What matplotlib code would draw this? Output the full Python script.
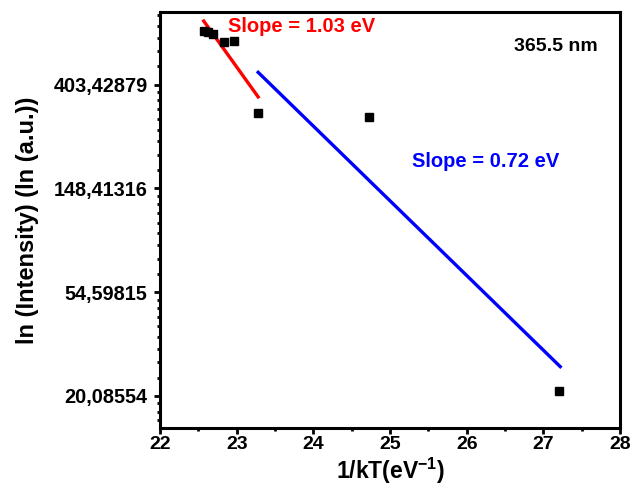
import numpy as np
import matplotlib.pyplot as plt
from matplotlib.ticker import FixedLocator, FuncFormatter

plt.rcParams['font.family'] = ['Liberation Sans', 'DejaVu Sans']
plt.rcParams['font.weight'] = 'bold'
plt.rcParams['mathtext.fontset'] = 'custom'
plt.rcParams['mathtext.rm'] = 'Liberation Sans:bold'
plt.rcParams['mathtext.bf'] = 'Liberation Sans:bold'
plt.rcParams['mathtext.default'] = 'bf'

# data (x = 1/kT, y = ln(intensity))
inv_kT = [22.57, 22.63, 22.69, 22.84, 22.96, 23.28, 24.73, 27.20]
ln_I = [6.52, 6.51, 6.49, 6.41, 6.42, 5.73, 5.69, 3.05]

# linear fits in ln space
red_slope = -1.03
red_icpt = 29.86
red_x = [22.57, 23.28]
blue_slope = -0.72
blue_icpt = 22.88
blue_x = [23.28, 27.22]

fig = plt.figure(figsize=(6.34, 4.9), dpi=100)
ax = fig.add_axes([0.2524, 0.1265, 0.7256, 0.849])

ax.plot(inv_kT, np.exp(ln_I), 's', color='black', markersize=5.5, zorder=3)
rx = np.array(red_x)
bx = np.array(blue_x)
ax.plot(rx, np.exp(red_icpt + red_slope * rx), color='red', lw=2.4)
ax.plot(bx, np.exp(blue_icpt + blue_slope * bx), color='blue', lw=2.4)

ax.set_yscale('log', base=np.e)
ax.set_xlim(22, 28)
ax.set_ylim(np.exp(2.69), np.exp(6.70))

majors = [np.exp(k) for k in range(3, 7)]
ax.yaxis.set_major_locator(FixedLocator(majors))
ax.yaxis.set_major_formatter(FuncFormatter(lambda v, p: ('%.5f' % v).replace('.', ',')))
minors = []
for k in range(1, 7):
    lo, hi = np.exp(k), np.exp(k + 1)
    for j in range(1, 9):
        minors.append(lo + j * (hi - lo) / 9)
ax.yaxis.set_minor_locator(FixedLocator(minors))
ax.yaxis.set_minor_formatter(FuncFormatter(lambda v, p: ''))

ax.set_xticks(np.arange(22, 29, 1))
ax.set_xticks(np.arange(22.5, 28, 1), minor=True)

ax.tick_params(which='major', direction='out', length=4.5, width=2, labelsize=14, pad=1.5)
ax.tick_params(axis='y', which='major', labelsize=14.3, pad=4.5)
ax.tick_params(which='minor', direction='out', length=2.5, width=2)
for s in ax.spines.values():
    s.set_linewidth(2.2)

ax.set_xlabel('1/kT(eV$^{-1}$)', fontsize=16.5, fontweight='bold', labelpad=2)
ax.set_ylabel('ln (Intensity) (ln (a.u.))', fontsize=17, fontweight='bold', labelpad=10)

ax.text(22.89, np.exp(6.56), 'Slope = 1.03 eV', color='red', fontsize=14.5,
        fontweight='bold', va='center')
ax.text(25.29, np.exp(5.26), 'Slope = 0.72 eV', color='blue', fontsize=14.5,
        fontweight='bold', va='center')
ax.text(0.952, 0.918, '365.5 nm', transform=ax.transAxes, fontsize=14,
        fontweight='bold', ha='right', va='center')

fig.savefig('out.png', dpi=100)
